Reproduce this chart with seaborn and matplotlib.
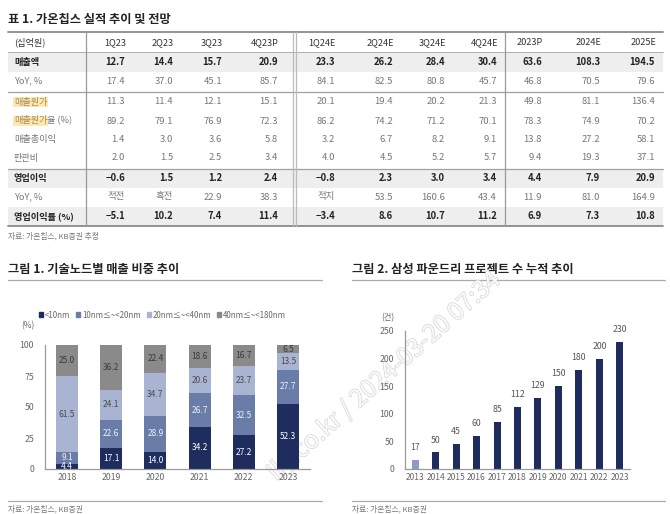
import matplotlib
matplotlib.use('Agg')
import matplotlib.pyplot as plt
import matplotlib.patheffects as pe
from matplotlib.patches import Rectangle, Patch
import seaborn as sns
import pandas as pd

sns.set_style('white')
plt.rcParams['font.family'] = ['Noto Sans CJK KR', 'DejaVu Sans']

# ---- table data ----
table_title = '표 1. 가온칩스 실적 추이 및 전망'
col_labels = ['1Q23', '2Q23', '3Q23', '4Q23P', '1Q24E', '2Q24E', '3Q24E', '4Q24E',
              '2023P', '2024E', '2025E']
row_labels = ['매출액', 'YoY, %', '매출원가', '매출원가율 (%)', '매출총이익', '판관비',
              '영업이익', 'YoY, %', '영업이익률 (%)']
row_values = [
    ['12.7', '14.4', '15.7', '20.9', '23.3', '26.2', '28.4', '30.4', '63.6', '108.3', '194.5'],
    ['17.4', '37.0', '45.1', '85.7', '84.1', '82.5', '80.8', '45.7', '46.8', '70.5', '79.6'],
    ['11.3', '11.4', '12.1', '15.1', '20.1', '19.4', '20.2', '21.3', '49.8', '81.1', '136.4'],
    ['89.2', '79.1', '76.9', '72.3', '86.2', '74.2', '71.2', '70.1', '78.3', '74.9', '70.2'],
    ['1.4', '3.0', '3.6', '5.8', '3.2', '6.7', '8.2', '9.1', '13.8', '27.2', '58.1'],
    ['2.0', '1.5', '2.5', '3.4', '4.0', '4.5', '5.2', '5.7', '9.4', '19.3', '37.1'],
    ['−0.6', '1.5', '1.2', '2.4', '−0.8', '2.3', '3.0', '3.4', '4.4', '7.9', '20.9'],
    ['적전', '흑전', '22.9', '38.3', '적지', '53.5', '160.6', '43.4', '11.9', '81.0', '164.9'],
    ['−5.1', '10.2', '7.4', '11.4', '−3.4', '8.6', '10.7', '11.2', '6.9', '7.3', '10.8'],
]
bold_rows = [0, 6, 8]
table_source = '자료: 가온칩스, KB증권 추정'

# ---- chart 1 data ----
node_years = ['2018', '2019', '2020', '2021', '2022', '2023']
node_series = ['<10nm', '10nm≤~<20nm', '20nm≤~<40nm', '40nm≤~<180nm']
node_lt10 = [4.4, 17.1, 14.0, 34.2, 27.2, 52.3]
node_10_20 = [9.1, 22.6, 28.9, 26.7, 32.5, 27.7]
node_20_40 = [61.5, 24.1, 34.7, 20.6, 23.7, 13.5]
node_40_180 = [25.0, 36.2, 22.4, 18.6, 16.7, 6.5]

# ---- chart 2 data ----
proj_years = ['2013', '2014', '2015', '2016', '2017', '2018', '2019', '2020', '2021', '2022', '2023']
proj_counts = [17, 30, 45, 60, 85, 112, 129, 150, 180, 200, 230]
proj_labels = ['17', '50', '45', '60', '85', '112', '129', '150', '180', '200', '230']

W, H = 670, 514
fig = plt.figure(figsize=(6.7, 5.14), dpi=100)
fig.patch.set_facecolor('white')


def fy(y):
    return 1 - y / H


def fx(x):
    return x / W


canvas = fig.add_axes([0, 0, 1, 1])
canvas.set_xlim(0, W)
canvas.set_ylim(H, 0)
canvas.axis('off')

# ---- table ----
canvas.text(8, 19, table_title, fontsize=8.8, fontweight='bold', va='center', color='#222')
for y0, y1 in [(52, 72), (169, 188), (206.5, 226)]:
    canvas.add_patch(Rectangle((8, y0), 655, y1 - y0, color='#eeeeee', lw=0, zorder=0))
for y, lw, c in [(32, 1.3, '#8a8a8a'), (52, 0.7, '#b0b0b0'), (91.5, 0.9, '#a0a0a0'),
                 (168.5, 0.9, '#a0a0a0'), (226, 1.3, '#8a8a8a')]:
    canvas.plot([8, 663], [y, y], color=c, lw=lw, zorder=1)
for x, c in [(86, '#999999'), (293, '#bbbbbb'), (296, '#bbbbbb'), (505, '#999999')]:
    canvas.plot([x, x], [32, 226], color=c, lw=0.9, zorder=1)

col_x = [125, 173, 222, 278, 335, 393, 445, 497, 542, 600, 655]
row_y = [62, 81, 102, 121, 139.5, 158, 178, 197, 216]
canvas.text(14, 42.5, '(십억원)', fontsize=6.6, va='center', color='#333')
for x, lab in zip(col_x, col_labels):
    canvas.text(x + 1, 42.5, lab, fontsize=6.6, va='center', ha='right', color='#333')

for i, (lab, vals, y) in enumerate(zip(row_labels, row_values, row_y)):
    bold = i in bold_rows
    col = '#222' if bold else '#777'
    fw = 'bold' if bold else 'normal'
    if i == 2:
        canvas.text(14, y, lab, fontsize=6.6, va='center', color='#a88c5a',
                    bbox=dict(boxstyle='square,pad=0.1', fc='#fde8b2', ec='none'))
    elif i == 3:
        t = canvas.text(14, y, '매출원가', fontsize=6.6, va='center', color='#a88c5a',
                        bbox=dict(boxstyle='square,pad=0.1', fc='#fde8b2', ec='none'))
        canvas.annotate('율 (%)', xy=(1, 0.5), xycoords=t, xytext=(-0.5, 0),
                        textcoords='offset points', fontsize=6.6, va='center', color='#777')
    else:
        canvas.text(14, y, lab, fontsize=6.6, va='center', color=col, fontweight=fw)
    for x, v in zip(col_x, vals):
        canvas.text(x, y, v, fontsize=6.8, va='center', ha='right', color=col, fontweight=fw)

canvas.text(8, 236, table_source, fontsize=5.6, va='center', color='#777')

# ---- chart titles / frames ----
canvas.text(8, 270, '그림 1. 기술노드별 매출 비중 추이', fontsize=8.8, fontweight='bold',
            va='center', color='#222')
canvas.plot([8, 322], [280, 280], color='#aaaaaa', lw=0.9)
canvas.plot([8, 322], [501, 501], color='#aaaaaa', lw=0.9)
canvas.text(8, 509, '자료: 가온칩스, KB증권', fontsize=5.6, va='center', color='#777')

canvas.text(352, 270, '그림 2. 삼성 파운드리 프로젝트 수 누적 추이', fontsize=8.8,
            fontweight='bold', va='center', color='#222')
canvas.plot([352, 665], [280, 280], color='#aaaaaa', lw=0.9)
canvas.plot([352, 665], [501, 501], color='#aaaaaa', lw=0.9)
canvas.text(352, 509, '자료: 가온칩스, KB증권', fontsize=5.6, va='center', color='#777')

canvas.text(28, 326, '(%)', fontsize=6, ha='center', va='center', color='#666')
canvas.text(388, 318, '(건)', fontsize=6, ha='center', va='center', color='#666')


def style_axis(ax):
    sns.despine(ax=ax, top=True, right=True)
    for s in ['left', 'bottom']:
        ax.spines[s].set_color('#9a9a9a')
        ax.spines[s].set_linewidth(0.9)
    ax.tick_params(axis='y', direction='inout', length=4, width=0.8, color='#9a9a9a',
                   labelsize=6.3, labelcolor='#666', pad=6)
    ax.tick_params(axis='x', length=0, labelsize=6.3, labelcolor='#666', pad=3)
    ax.set_xlabel('')
    ax.set_ylabel('')
    ax.set_facecolor('none')


# ---- chart 1: stacked bars ----
node_colors = ['#1e2c5e', '#6a7da9', '#a9b4d3', '#8a8a8a']
node_text = ['white', '#eef0f6', '#4a4a4a', '#3a3a3a']
ax1 = fig.add_axes([fx(45), fy(469), fx(310 - 45), (469 - 345) / H])
node_df = pd.DataFrame({'year': node_years, node_series[0]: node_lt10,
                        node_series[1]: node_10_20, node_series[2]: node_20_40,
                        node_series[3]: node_40_180})
bottom = [0.0] * len(node_years)
for s, c, tc in zip(node_series, node_colors, node_text):
    sns.barplot(data=node_df, x='year', y=s, color=c, width=0.5, bottom=bottom, ax=ax1,
                saturation=1, linewidth=0)
    for i, v in enumerate(node_df[s]):
        ax1.text(i, bottom[i] + v / 2, f'{v:.1f}', ha='center', va='center', fontsize=6,
                 color=tc)
    bottom = [b + v for b, v in zip(bottom, node_df[s])]
ax1.set_ylim(0, 100)
ax1.set_xlim(-0.5, len(node_years) - 0.5)
ax1.set_yticks([0, 25, 50, 75, 100])
style_axis(ax1)
ax1.set_xticks([i + 0.5 for i in range(len(node_years) - 1)], minor=True)
ax1.tick_params(axis='x', which='minor', direction='inout', length=3, color='#9a9a9a')
ax1.spines['left'].set_bounds(0, 100)

fig.legend(handles=[Patch(color=c, label=s) for s, c in zip(node_series, node_colors)],
           loc='center left', bbox_to_anchor=(fx(39), fy(315)), ncol=4, frameon=False,
           fontsize=5.7, handlelength=0.5, handleheight=0.5, handletextpad=0.25,
           columnspacing=0.75, labelcolor='#666', borderaxespad=0, borderpad=0)

# ---- chart 2: project counts ----
ax2 = fig.add_axes([fx(405), fy(469), fx(630 - 405), (469 - 331) / H])
proj_df = pd.DataFrame({'year': proj_years, 'count': proj_counts})
proj_palette = ['#8d9cc6'] + ['#1e2c5e'] * (len(proj_years) - 1)
sns.barplot(data=proj_df, x='year', y='count', hue='year', palette=proj_palette,
            legend=False, width=0.34, ax=ax2, saturation=1, linewidth=0)
for i, (v, lab) in enumerate(zip(proj_df['count'], proj_labels)):
    ax2.text(i, v + 14, lab, ha='center', va='bottom', fontsize=6.3, color='#555')
ax2.set_ylim(0, 250)
ax2.set_xlim(-0.5, len(proj_years) - 0.5)
ax2.set_yticks([0, 50, 100, 150, 200, 250])
style_axis(ax2)
ax2.set_xticks([i + 0.5 for i in range(len(proj_years) - 1)], minor=True)
ax2.tick_params(axis='x', which='minor', direction='inout', length=3, color='#9a9a9a')
ax2.tick_params(axis='x', labelsize=6.1, pad=3)

# ---- watermark ----
canvas.text(385, 376, 'ily.co.kr / 2024-03-20 07:34', fontsize=17.5, rotation=41.5,
            ha='center', va='center', color='white', alpha=0.85, zorder=10,
            path_effects=[pe.withStroke(linewidth=1.0, foreground='#cfcfcf')])

fig.savefig('out.png', dpi=100, facecolor='white')
